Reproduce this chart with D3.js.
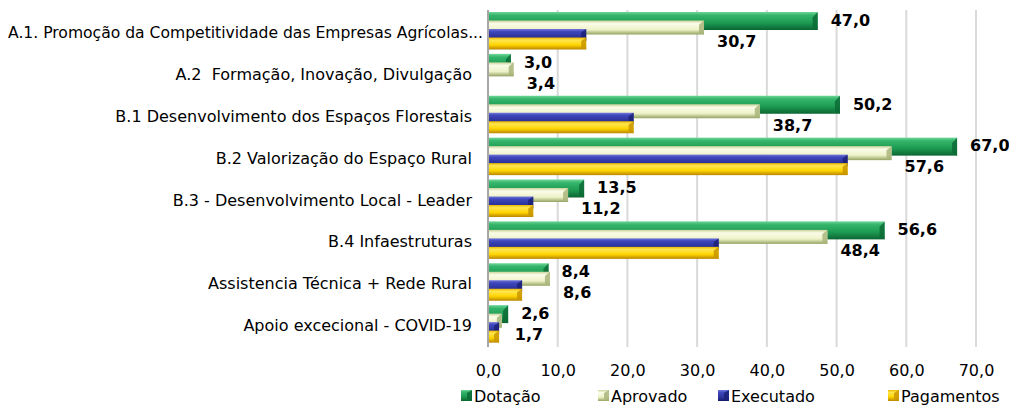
<!DOCTYPE html>
<html>
<head>
<meta charset="utf-8">
<script src="https://cdn.jsdelivr.net/npm/d3@7"></script>
<style>
  html, body { margin: 0; padding: 0; background: #fff; }
  svg { display: block; }
  text { font-family: "DejaVu Sans", sans-serif; fill: #000; }
</style>
</head>
<body>
<svg id="chart" width="1009" height="405"></svg>
<script>
// ---- Data ----
const categories = [
  "A.1. Promoção da Competitividade das Empresas Agrícolas...",
  "A.2  Formação, Inovação, Divulgação",
  "B.1 Desenvolvimento dos Espaços Florestais",
  "B.2 Valorização do Espaço Rural",
  "B.3 - Desenvolvimento Local - Leader",
  "B.4 Infaestruturas",
  "Assistencia Técnica + Rede Rural",
  "Apoio excecional - COVID-19"
];
const seriesNames = ["Dotação", "Aprovado", "Executado", "Pagamentos"];
const dotacao    = [47.0, 3.0, 50.2, 67.0, 13.5, 56.6, 8.4, 2.6];
const aprovado   = [30.7, 3.4, 38.7, 57.6, 11.2, 48.4, 8.6, 1.7];
const executado  = [13.8, 0.0, 20.6, 51.3, 6.2, 32.8, 4.6, 1.3];
const pagamentos = [13.8, 0.0, 20.6, 51.3, 6.2, 32.8, 4.6, 1.3];
const xTicks = [0, 10, 20, 30, 40, 50, 60, 70];
const labelledSeries = ["Dotação", "Aprovado"];

const seriesValues = [dotacao, aprovado, executado, pagamentos];

// ---- Styles ----
const gradStops = {
  "Dotação":    [["0%", "#6fd698"], ["18%", "#35b56b"], ["60%", "#1d9a52"], ["100%", "#0b6532"]],
  "Aprovado":   [["0%", "#c9d39a"], ["22%", "#fbfce8"], ["65%", "#eef2c8"], ["100%", "#93a261"]],
  "Executado":  [["0%", "#7077dc"], ["22%", "#3f47bb"], ["70%", "#2a3199"], ["100%", "#141a66"]],
  "Pagamentos": [["0%", "#e9b800"], ["22%", "#ffe650"], ["62%", "#ffd500"], ["100%", "#b98600"]]
};
const capColor = { "Dotação": "#0c6b36", "Aprovado": "#a8b57a", "Executado": "#1b2177", "Pagamentos": "#c99600" };
const barHeight = { "Dotação": 18, "Aprovado": 14, "Executado": 12, "Pagamentos": 12 };
const labelShift = { "Dotação": -1, "Aprovado": 13.5 };

const svg = d3.select("#chart");
const defs = svg.append("defs");
seriesNames.forEach((s, i) => {
  const g = defs.append("linearGradient").attr("id", "g" + i)
    .attr("x1", 0).attr("y1", 0).attr("x2", 0).attr("y2", 1);
  gradStops[s].forEach(([o, c]) => g.append("stop").attr("offset", o).attr("stop-color", c));
});

// ---- Scales ----
const plot = { left: 488, right: 976, top: 12, bottom: 347 };
const x = d3.scaleLinear().domain([0, 70]).range([plot.left, plot.right]);
const y = d3.scaleBand().domain(categories).range([plot.top, plot.bottom]).paddingInner(0).paddingOuter(0);
const ys = d3.scaleBand().domain(seriesNames).range([0, 34]).padding(0);

const locale = d3.formatLocale({ decimal: ",", thousands: ".", grouping: [3], currency: ["", "€"] });
const fmt = locale.format(".1f");

// ---- Gridlines ----
svg.append("g").selectAll("line").data(xTicks.filter(t => t > 0)).join("line")
  .attr("x1", d => x(d)).attr("x2", d => x(d))
  .attr("y1", plot.top - 2).attr("y2", plot.bottom)
  .attr("stroke", "#d9d9d9").attr("stroke-width", 2);

// ---- X axis tick labels ----
const xAxis = d3.axisBottom(x).tickValues(xTicks).tickFormat(fmt).tickSize(0).tickPadding(0);
const xg = svg.append("g").attr("transform", `translate(0, ${plot.bottom + 17})`).call(xAxis);
xg.select(".domain").remove();
xg.selectAll("text").attr("font-size", 16).attr("font-family", "DejaVu Sans").attr("fill", "#000").attr("dy", "0.35em").attr("y", 6);

// ---- Bars ----
const barsG = svg.append("g");
seriesNames.forEach((s, si) => {
  const vals = seriesValues[si];
  const g = barsG.append("g");
  const rows = categories.map((c, ci) => ({ c, v: vals[ci] })).filter(d => d.v > 0);
  const h = barHeight[s];
  g.selectAll("rect").data(rows).join("rect")
    .attr("x", plot.left)
    .attr("y", d => y(d.c) + ys(s))
    .attr("width", d => x(d.v) - plot.left + 2)
    .attr("height", h)
    .attr("fill", `url(#g${si})`);
  // right-end bevel cap
  g.selectAll("path").data(rows).join("path")
    .attr("d", d => {
      const xe = x(d.v) + 2, yt = y(d.c) + ys(s);
      const b = Math.min(5, (x(d.v) - plot.left) / 2 + 1);
      return `M${xe - b},${yt + h * 0.3} L${xe},${yt} L${xe},${yt + h} L${xe - b},${yt + h * 0.85} Z`;
    })
    .attr("fill", capColor[s]).attr("opacity", 0.85);
});

// ---- Left axis line ----
svg.append("line").attr("x1", plot.left).attr("x2", plot.left)
  .attr("y1", plot.top - 2).attr("y2", plot.bottom)
  .attr("stroke", "#a6a6a6").attr("stroke-width", 2);

// ---- Category labels ----
const labelGap = 16;
const yAxis = d3.axisLeft(y).tickSize(0).tickPadding(labelGap);
const yg = svg.append("g").attr("transform", `translate(${plot.left},0)`).call(yAxis);
yg.select(".domain").remove();
yg.selectAll("text").attr("font-size", 16).attr("font-family", "DejaVu Sans").attr("fill", "#000")
  .attr("xml:space", "preserve").style("white-space", "pre")
  .each(function (d) {
    const t = d3.select(this);
    // truncated labels run closer to the axis, and are fitted into the space available
    if (d.endsWith("...")) {
      t.attr("x", -5);
      const avail = plot.left - 5 - 8;
      if (this.getComputedTextLength() > avail) {
        t.attr("textLength", avail).attr("lengthAdjust", "spacingAndGlyphs");
      }
    }
  });

// ---- Value labels ----
labelledSeries.forEach(s => {
  const si = seriesNames.indexOf(s);
  const vals = seriesValues[si];
  svg.append("g").selectAll("text").data(categories.map((c, ci) => ({ c, v: vals[ci] }))).join("text")
    .attr("x", d => x(d.v) + 15)
    .attr("y", d => y(d.c) + ys(s) + barHeight[s] / 2 + labelShift[s])
    .attr("dy", "0.36em")
    .attr("font-size", 16).attr("font-weight", "bold")
    .text(d => fmt(d.v));
});

// ---- Legend ----
const legendX = [461, 598, 718, 888];
const lg = svg.append("g").selectAll("g").data(seriesNames).join("g")
  .attr("transform", (d, i) => `translate(${legendX[i]}, 390)`);
lg.append("rect").attr("width", 11).attr("height", 11).attr("fill", (d, i) => `url(#g${i})`);
lg.append("path").attr("d", "M6,3 L11,0 L11,11 L6,9 Z").attr("fill", d => capColor[d]).attr("opacity", 0.85);
lg.append("text").attr("x", 13).attr("y", 6).attr("dy", "0.36em").attr("font-size", 16).text(d => d);
</script>
</body>
</html>
